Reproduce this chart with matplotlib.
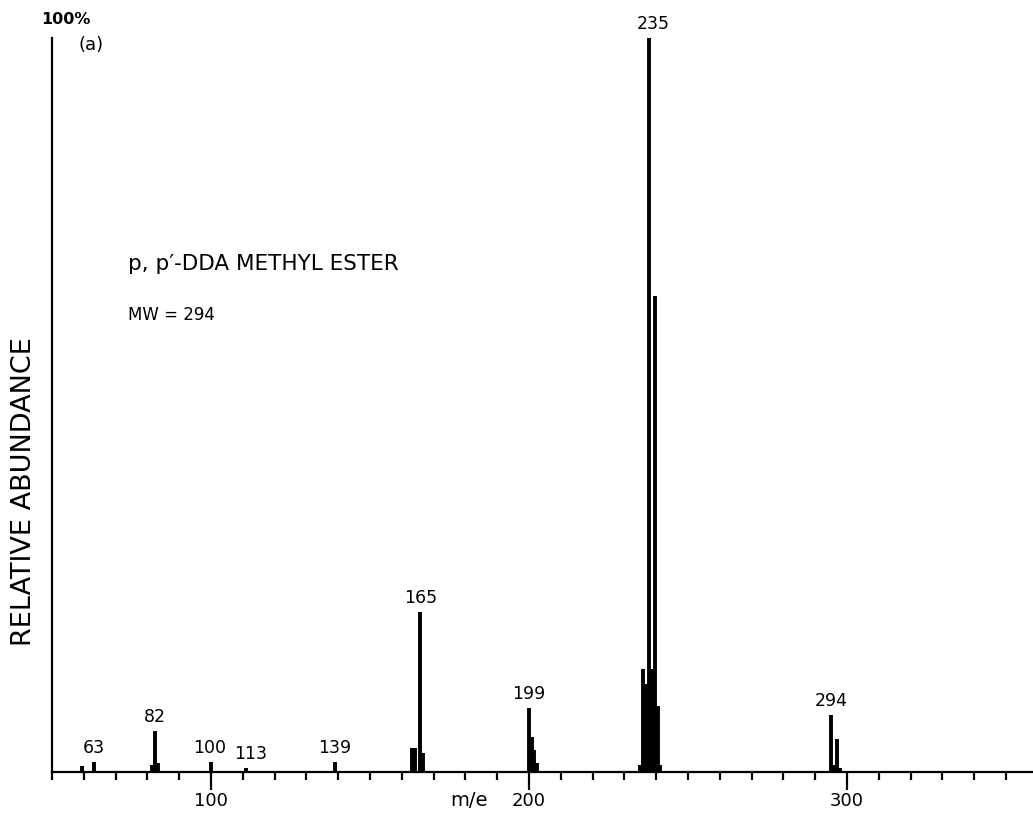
import matplotlib.pyplot as plt
from matplotlib.ticker import MultipleLocator

plt.rcParams['font.family'] = ['DejaVu Sans']

# peak positions on the printed m/e scale and relative abundance (%)
mz = [59.3, 63.1, 81.6, 82.5, 83.3, 100.0, 111.0, 139.0,
      163.1, 164.2, 165.7, 166.6,
      199.9, 200.8, 201.7, 202.6,
      234.8, 235.8, 236.7, 237.7, 238.7, 239.6, 240.5, 241.2,
      295.0, 296.0, 296.9, 297.8]
abundance = [0.8, 1.4, 1.0, 5.6, 1.2, 1.4, 0.6, 1.4,
             3.3, 3.3, 21.8, 2.6,
             8.7, 4.8, 3.0, 1.2,
             1.0, 14.0, 12.0, 100.0, 14.0, 64.9, 9.0, 1.0,
             7.8, 1.0, 4.5, 0.5]

# peak labels: text, peak they sit on, centre of the text
label_text = ['63', '82', '100', '113', '139', '165', '199', '235', '294']
label_peak = [63.1, 82.5, 100.0, 111.0, 139.0, 165.7, 199.9, 237.7, 295.0]
label_x = [63.2, 82.5, 99.7, 112.6, 139.0, 166.0, 200.0, 239.0, 295.2]

fig = plt.figure(figsize=(10.33, 8.15), dpi=100)
ax = fig.add_axes([52 / 1033, 43 / 815, 981 / 1033, 734 / 815])

ax.vlines(mz, 0, abundance, color='black', linewidth=2.8)

heights = dict(zip(mz, abundance))
for text, peak, x in zip(label_text, label_peak, label_x):
    ax.annotate(text, (x, heights[peak]), xytext=(0, 3.5), textcoords='offset points',
                ha='center', va='bottom', fontsize=12.5)

ax.set_xlim(50, 358.5)
ax.set_ylim(0, 100)
ax.spines['top'].set_visible(False)
ax.spines['right'].set_visible(False)
ax.spines['left'].set_linewidth(1.6)
ax.spines['bottom'].set_linewidth(1.6)
ax.set_yticks([])
ax.xaxis.set_major_locator(MultipleLocator(100))
ax.xaxis.set_minor_locator(MultipleLocator(10))
ax.tick_params(axis='x', which='major', length=13, width=1.6, labelsize=13, pad=1.5)
ax.tick_params(axis='x', which='minor', length=6, width=1.6)

ax.text(54.4, 101.5, '100%', ha='center', va='bottom', fontsize=11.5, fontweight='bold')
ax.text(58.2, 99.0, '(a)', ha='left', va='center', fontsize=13)
ax.text(73.9, 69.2, "p, p\u2032-DDA METHYL ESTER", ha='left', va='center', fontsize=15.5)
ax.text(73.9, 62.2, 'MW = 294', ha='left', va='center', fontsize=12)
fig.text(24 / 1033, 1 - 492 / 815, 'RELATIVE ABUNDANCE', rotation=90,
         ha='center', va='center', fontsize=19.5)
ax.text(181.1, -3.95, 'm/e', ha='center', va='center', fontsize=14)

fig.savefig('out.png', dpi=100, facecolor='white')
